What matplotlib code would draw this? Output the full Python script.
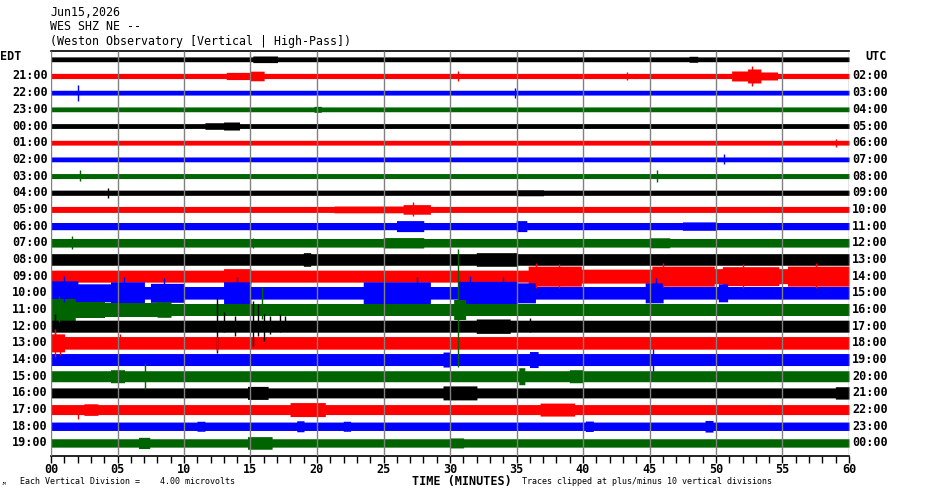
import numpy as np
import matplotlib
matplotlib.use('Agg')
import matplotlib.pyplot as plt
from matplotlib.transforms import blended_transform_factory

# helicorder: 24 one-hour rows, local (EDT) on the left, UTC on the right
edt_labels = ['21:00', '22:00', '23:00', '00:00', '01:00', '02:00', '03:00', '04:00',
              '05:00', '06:00', '07:00', '08:00', '09:00', '10:00', '11:00', '12:00',
              '13:00', '14:00', '15:00', '16:00', '17:00', '18:00', '19:00']
utc_labels = ['02:00', '03:00', '04:00', '05:00', '06:00', '07:00', '08:00', '09:00',
              '10:00', '11:00', '12:00', '13:00', '14:00', '15:00', '16:00', '17:00',
              '18:00', '19:00', '20:00', '21:00', '22:00', '23:00', '00:00']
minute_ticks = [0, 5, 10, 15, 20, 25, 30, 35, 40, 45, 50, 55, 60]
minute_labels = ['00', '05', '10', '15', '20', '25', '30', '35', '40', '45', '50', '55', '60']

trace_colors = ['black', '#ff0000', '#0000ff', '#006400']

# background noise half-amplitude of each row (pixels)
base_amp = [2.4, 2.6, 2.4, 2.4, 2.4, 2.4, 2.4, 2.5, 2.6, 3.0, 3.6, 4.3,
            5.8, 6.0, 6.3, 6.0, 6.0, 6.3, 6.0, 5.5, 5.0, 5.0, 4.2, 4.2]

# louder stretches: (row, start minute, end minute, half-amplitude)
bursts = [
    (0, 15.2, 17.0, 3.3), (0, 48.0, 48.6, 3.0),
    (1, 13.2, 15.0, 3.6), (1, 15.0, 16.0, 4.8), (1, 51.2, 52.4, 5.0),
    (1, 52.4, 53.4, 7.0), (1, 53.4, 54.6, 4.0),
    (3, 19.8, 20.3, 3.0),
    (4, 11.6, 13.0, 3.3), (4, 13.0, 14.2, 4.0),
    (8, 35.0, 37.0, 3.0),
    (9, 21.3, 26.5, 3.4), (9, 26.5, 28.5, 4.8),
    (10, 26.0, 28.0, 5.5), (10, 35.0, 35.8, 5.5), (10, 47.5, 50.0, 4.2),
    (11, 25.0, 28.0, 5.2), (11, 45.0, 46.5, 5.0),
    (12, 32.0, 35.0, 6.8), (12, 19.0, 19.5, 6.8),
    (13, 13.0, 15.0, 7.5), (13, 35.9, 39.9, 10.0), (13, 39.9, 45.2, 7.0),
    (13, 45.2, 49.9, 10.0), (13, 49.9, 50.5, 7.5), (13, 50.5, 54.7, 9.5),
    (13, 54.7, 55.4, 7.5), (13, 55.4, 60.0, 10.0),
    (14, 0.0, 2.0, 12.0), (14, 2.0, 4.5, 9.0), (14, 4.5, 7.0, 11.0),
    (14, 7.5, 10.0, 9.5), (14, 13.0, 15.0, 11.0), (14, 23.5, 28.5, 11.0),
    (14, 30.6, 35.0, 11.5), (14, 35.0, 36.4, 10.0), (14, 44.7, 46.0, 10.0),
    (14, 50.2, 50.9, 9.0),
    (15, 0.0, 1.8, 11.0), (15, 1.8, 4.0, 8.0), (15, 4.0, 8.0, 7.0),
    (15, 8.0, 9.0, 7.8), (15, 30.3, 31.2, 10.0),
    (16, 32.0, 34.5, 7.2),
    (17, 0.0, 1.0, 9.0),
    (18, 29.5, 30.0, 7.5), (18, 36.0, 36.6, 8.0),
    (19, 4.5, 5.5, 6.5), (19, 35.2, 35.6, 8.5), (19, 39.0, 40.0, 6.5),
    (20, 14.8, 16.3, 6.5), (20, 29.5, 32.0, 7.0), (20, 59.0, 60.0, 6.2),
    (21, 2.5, 3.5, 5.8), (21, 18.0, 20.6, 7.0), (21, 36.8, 39.4, 6.5),
    (22, 11.0, 11.6, 5.0), (22, 18.5, 19.0, 5.5), (22, 22.0, 22.5, 5.0),
    (22, 40.2, 40.8, 5.2), (22, 49.2, 49.8, 5.8),
    (23, 6.6, 7.4, 5.6), (23, 14.8, 16.6, 6.3), (23, 30.0, 31.0, 5.0),
]

# single sharp spikes: (row, minute, up px, down px)
spikes = [
    (1, 52.7, 10, 10), (1, 30.6, 5, 5), (1, 43.3, 4, 4),
    (2, 2.0, 8, 8), (2, 34.9, 5, 5),
    (5, 59.0, 4, 4), (6, 50.6, 5, 5),
    (7, 2.2, 6, 5), (7, 45.6, 6, 6), (8, 4.3, 5, 5),
    (9, 27.2, 7, 7), (11, 1.6, 7, 6), (11, 15.2, 5, 5),
    (13, 36.5, 13, 12), (13, 38.2, 12, 12), (13, 46.0, 13, 11),
    (13, 52.0, 12, 12), (13, 57.5, 13, 12),
    (14, 1.0, 17, 9), (14, 5.5, 16, 9), (14, 8.5, 15, 9), (14, 14.0, 16, 9),
    (14, 25.0, 17, 9), (14, 27.5, 16, 9), (14, 31.5, 17, 9), (14, 34.0, 16, 9),
    (14, 45.5, 15, 9),
    (15, 30.6, 60, 58), (15, 15.9, 22, 10), (15, 7.9, 8, 6), (15, 0.6, 13, 13),
    (16, 0.3, 12, 8), (16, 12.5, 29, 27), (16, 13.0, 14, 6),
    (16, 13.8, 10, 10), (16, 15.2, 25, 20), (16, 15.6, 22, 10),
    (16, 16.0, 12, 15), (16, 16.5, 10, 8), (16, 17.2, 12, 6),
    (16, 17.6, 10, 5), (16, 36.0, 8, 6),
    (17, 0.3, 14, 14), (17, 0.7, 8, 12), (17, 5.2, 9, 4), (17, 12.5, 6, 8),
    (18, 45.3, 11, 11), (19, 7.1, 13, 13),
    (21, 2.0, 5, 9),
]

W, H = 930, 494
row0_y, row_step = 59.3, 16.68

fig = plt.figure(figsize=(W / 100, H / 100), dpi=100)
ax = fig.add_axes([51 / W, 1 - 456 / H, 798 / W, 405 / H])
ax.set_xlim(0, 60)
ax.set_ylim(456, 51)

t = np.linspace(0, 60, 1201)
for i, base in enumerate(base_amp):
    yc = row0_y + row_step * i
    env = np.full_like(t, base)
    for r, s, e, a in bursts:
        if r == i:
            m = (t >= s) & (t <= e)
            env[m] = np.maximum(env[m], a)
    ax.fill_between(t, yc - env, yc + env, step='mid',
                    color=trace_colors[i % 4], lw=0, zorder=2 + i * 0.01)
for r, m, up, dn in spikes:
    yc = row0_y + row_step * r
    ax.vlines(m, yc - up, yc + dn, color=trace_colors[r % 4], lw=1.0, zorder=3)

ax.vlines(minute_ticks, 51, 456, color='#808080', lw=1, zorder=5)

for s in ['left', 'right']:
    ax.spines[s].set_visible(False)
for s in ['top', 'bottom']:
    ax.spines[s].set_color('black')
    ax.spines[s].set_linewidth(1.2)

mono = 'DejaVu Sans Mono'
ax.set_xticks(minute_ticks)
ax.set_xticklabels(minute_labels, family=mono, weight='bold', fontsize=8.5)
ax.set_xticks(range(61), minor=True)
ax.tick_params(axis='x', which='both', direction='out', length=5, width=1, pad=0)
ax.set_yticks([])

tr = blended_transform_factory(ax.transAxes, ax.transData)
for i, lab in enumerate(edt_labels):
    yc = row0_y + row_step * (i + 1)
    ax.text(-0.004, yc, lab, transform=tr, ha='right', va='center',
            family=mono, weight='bold', fontsize=8.5)
for i, lab in enumerate(utc_labels):
    yc = row0_y + row_step * (i + 1)
    ax.text(1.004, yc, lab, transform=tr, ha='left', va='center',
            family=mono, weight='bold', fontsize=8.5)

def ftext(x, y, s, **kw):
    fig.text(x / W, 1 - y / H, s, va='center', family=mono, **kw)

ftext(0, 56, 'EDT', fontsize=8.5, weight='bold')
ftext(865, 56, 'UTC', fontsize=8.5, weight='bold')
ftext(50, 12, 'Jun15,2026', fontsize=8.4)
ftext(50, 27, 'WES SHZ NE --', fontsize=8.4)
ftext(50, 42, '(Weston Observatory [Vertical | High-Pass])', fontsize=8.4)
ftext(462, 481, 'TIME (MINUTES)', fontsize=8.5, weight='bold', ha='center')
ftext(20, 481, 'Each Vertical Division =    4.00 microvolts', fontsize=6)
ftext(522, 481, 'Traces clipped at plus/minus 10 vertical divisions', fontsize=6)
ftext(2, 484, 'JM', fontsize=3)

fig.savefig('out.png', dpi=100)
